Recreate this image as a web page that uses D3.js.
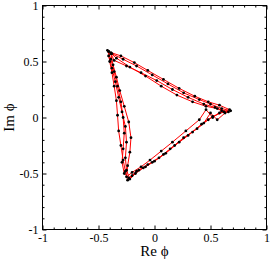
<!DOCTYPE html>
<html>
<head>
<meta charset="utf-8">
<script src="https://cdn.jsdelivr.net/npm/d3@7"></script>
<style>
  body { margin: 0; background: #fff; }
  text { font-family: "Liberation Serif", "DejaVu Serif", serif; }
</style>
</head>
<body>
<div id="chart"></div>
<script>
// trajectory of phi in the complex plane (re, im), four laps round the triangle
var reVals = [
  -0.41,-0.40,-0.38,-0.36,-0.34,-0.33,-0.32,-0.30,-0.28,-0.26,-0.24,-0.20,-0.14,-0.06,0.04,0.14,0.26,0.38,0.48,0.58,0.67,0.58,0.48,0.36,0.22,0.08,-0.06,-0.18,-0.30,-0.39,
  -0.41,-0.38,-0.35,-0.32,-0.29,-0.26,-0.25,-0.26,-0.25,-0.22,-0.17,-0.10,-0.02,0.08,0.18,0.30,0.42,0.52,0.62,0.54,0.44,0.30,0.16,0.02,-0.12,-0.25,-0.36,
  -0.39,-0.37,-0.34,-0.31,-0.27,-0.23,-0.21,-0.22,-0.24,-0.25,-0.20,-0.12,-0.04,0.06,0.16,0.28,0.40,0.46,0.52,0.60,0.66,0.56,0.46,0.34,0.20,0.06,-0.08,-0.22,-0.34,
  -0.42,-0.39,-0.36,-0.33,-0.30,-0.28,-0.27,-0.28,-0.29,-0.27,-0.23,-0.16,-0.08,0.00,0.10,0.22,0.34,0.44,0.50,0.56,0.63,0.68,0.60,0.50,0.40,0.26,0.12,-0.02,-0.16,-0.28,-0.38,-0.41
];
var imVals = [
  0.59,0.50,0.40,0.28,0.15,0.02,-0.12,-0.25,-0.38,-0.48,-0.56,-0.52,-0.47,-0.42,-0.36,-0.28,-0.18,-0.10,-0.02,0.04,0.07,0.11,0.14,0.19,0.26,0.34,0.42,0.49,0.55,0.58,
  0.55,0.44,0.32,0.18,0.05,-0.08,-0.22,-0.36,-0.47,-0.55,-0.50,-0.45,-0.40,-0.33,-0.25,-0.16,-0.06,0.01,0.05,0.09,0.12,0.18,0.25,0.33,0.40,0.46,0.51,
  0.57,0.47,0.36,0.24,0.10,-0.04,-0.18,-0.31,-0.43,-0.53,-0.49,-0.44,-0.38,-0.30,-0.22,-0.12,-0.02,0.07,0.00,0.06,0.05,0.08,0.10,0.14,0.20,0.28,0.37,0.45,0.53,
  0.60,0.52,0.41,0.28,0.14,0.00,-0.14,-0.28,-0.40,-0.50,-0.54,-0.48,-0.44,-0.39,-0.32,-0.22,-0.13,-0.05,0.04,-0.02,0.04,0.06,0.08,0.12,0.16,0.22,0.30,0.38,0.46,0.52,0.57,0.59
];
var majorTicks = [-1, -0.5, 0, 0.5, 1];
var minorTicks = [-0.9,-0.8,-0.7,-0.6,-0.4,-0.3,-0.2,-0.1,0.1,0.2,0.3,0.4,0.6,0.7,0.8,0.9];

var points = reVals.map(function(d, i) { return {re: d, im: imVals[i]}; });

var W = 270, H = 261;
var mLeft = 42.5, mRight = 266.5, mTop = 5.5, mBottom = 229.5;

var svg = d3.select("#chart").append("svg")
  .attr("width", W).attr("height", H);

var x = d3.scaleLinear().domain([-1, 1]).range([mLeft, mRight]);
var y = d3.scaleLinear().domain([-1, 1]).range([mBottom, mTop]);

function fmt(d) { return String(d); }

// axes, ticks pointing inward on all four sides
function addAxis(gen, tr, vals, size, labels) {
  var g = svg.append("g").attr("transform", tr)
    .call(gen.tickValues(vals).tickSize(size).tickSizeOuter(0)
      .tickFormat(labels ? fmt : ""));
  g.select(".domain").remove();
  g.selectAll("line").attr("stroke", "#000").attr("stroke-width", 1);
  return g;
}

var xb = addAxis(d3.axisBottom(x), "translate(0," + mBottom + ")", majorTicks, -4, true);
xb.selectAll("text").attr("y", 4).attr("dy", "0.71em");
addAxis(d3.axisBottom(x), "translate(0," + mBottom + ")", minorTicks, -2, false);
addAxis(d3.axisTop(x), "translate(0," + mTop + ")", majorTicks, -4, false);
addAxis(d3.axisTop(x), "translate(0," + mTop + ")", minorTicks, -2, false);

var yl = addAxis(d3.axisLeft(y), "translate(" + mLeft + ",0)", majorTicks, -4, true);
yl.selectAll("text").attr("x", -4);
addAxis(d3.axisLeft(y), "translate(" + mLeft + ",0)", minorTicks, -2, false);
addAxis(d3.axisRight(y), "translate(" + mRight + ",0)", majorTicks, -4, false);
addAxis(d3.axisRight(y), "translate(" + mRight + ",0)", minorTicks, -2, false);

svg.selectAll(".tick text")
  .attr("fill", "#000")
  .style("font-size", "12px")
  .style("font-family", "'Liberation Serif', serif");

// frame
svg.append("rect")
  .attr("x", mLeft).attr("y", mTop)
  .attr("width", mRight - mLeft).attr("height", mBottom - mTop)
  .attr("fill", "none").attr("stroke", "#000").attr("stroke-width", 1);

// trajectory
var line = d3.line()
  .x(function(d) { return x(d.re); })
  .y(function(d) { return y(d.im); });

svg.append("path")
  .datum(points)
  .attr("d", line)
  .attr("fill", "none")
  .attr("stroke", "#ff0000")
  .attr("stroke-width", 1);

svg.append("g").selectAll("circle")
  .data(points)
  .enter().append("circle")
  .attr("cx", function(d) { return x(d.re); })
  .attr("cy", function(d) { return y(d.im); })
  .attr("r", 1.4)
  .attr("fill", "#000");

// axis titles
svg.append("text")
  .attr("x", (mLeft + mRight) / 2).attr("y", 256)
  .attr("text-anchor", "middle")
  .style("font-size", "15px")
  .text("Re \u03d5");

svg.append("text")
  .attr("transform", "translate(14," + ((mTop + mBottom) / 2) + ") rotate(-90)")
  .attr("text-anchor", "middle")
  .style("font-size", "15px")
  .text("Im \u03d5");
</script>
</body>
</html>
